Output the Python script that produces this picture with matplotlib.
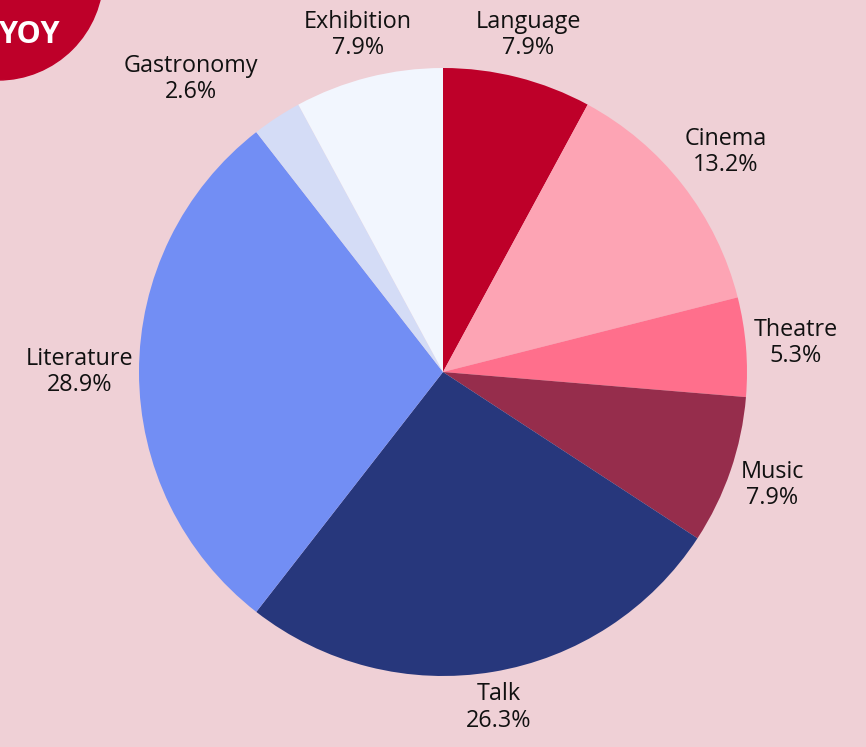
import numpy as np
import matplotlib
matplotlib.use("Agg")
import matplotlib.pyplot as plt
from matplotlib.patches import Circle

categories = ["Language", "Cinema", "Theatre", "Music", "Talk", "Literature", "Gastronomy", "Exhibition"]
counts = [3, 5, 2, 3, 10, 11, 1, 3]
colors = ["#BE0029", "#FDA4B4", "#FF6F8C", "#962D4C", "#27377C", "#728EF4", "#D4DCF6", "#F2F6FE"]
badge_text = "YOY"

BG = "#EFD0D6"
W, H = 866, 747
fig = plt.figure(figsize=(W / 100, H / 100), dpi=100, facecolor=BG)
ax = fig.add_axes([0, 0, 1, 1])
ax.set_facecolor(BG)

cx, cy, R = 443, H - 372, 304
wedges, _ = ax.pie(counts, colors=colors, startangle=90, counterclock=False,
                   center=(cx, cy), radius=R, frame=True,
                   wedgeprops=dict(linewidth=0, antialiased=True))
ax.set_xlim(0, W)
ax.set_ylim(0, H)
ax.axis("off")

# label nudges (pixel positions) for crowded labels
label_override = {"Gastronomy": (191, H - 79)}

total = sum(counts)
fig.canvas.draw()
renderer = fig.canvas.get_renderer()
font = ["Open Sans", "DejaVu Sans"]
for w, name, v in zip(wedges, categories, counts):
    ang = np.deg2rad((w.theta1 + w.theta2) / 2)
    c, s = np.cos(ang), np.sin(ang)
    t = ax.text(0, 0, f"{name}\n{100 * v / total:.1f}%", ha="center", va="center",
                fontsize=16.8, family=font, color="#111111", linespacing=1.12)
    bb = t.get_window_extent(renderer)
    hw, hh = bb.width / 2, bb.height / 2
    d = R * 1.02 + hw * abs(c) + hh * abs(s)
    pos = label_override.get(name, (cx + d * c, cy + d * s))
    t.set_position(pos)

ax.add_patch(Circle((-2, H + 25), 105, color="#BE0029", zorder=5, clip_on=False))
ax.text(61, H - 35, badge_text, ha="right", va="center", fontsize=22, fontweight="bold",
        family=font, color="white", zorder=6)

fig.savefig("out.png", dpi=100, facecolor=BG)
